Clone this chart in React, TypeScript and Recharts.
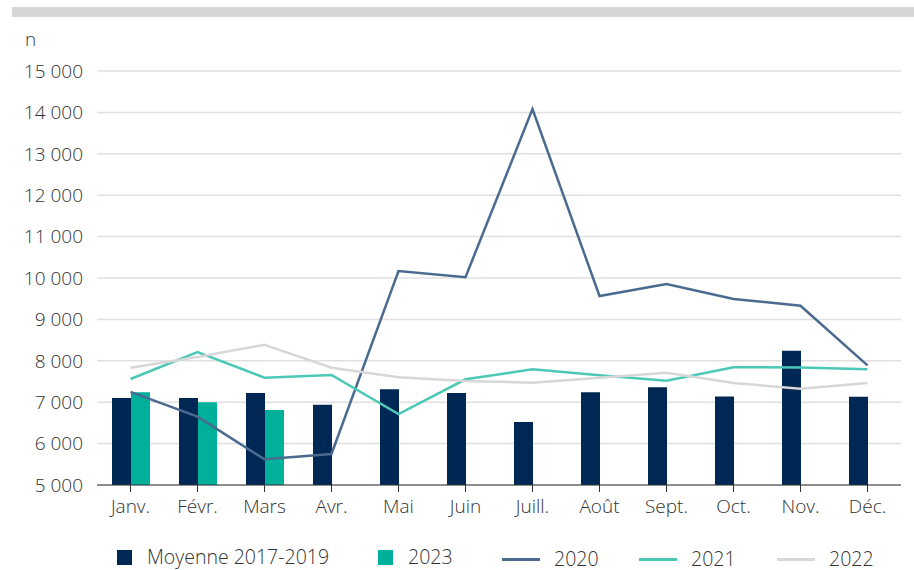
import React from 'react';
import { ComposedChart, Bar, Line, XAxis, YAxis, CartesianGrid, Legend } from 'recharts';

const months = ['Janv.', 'Févr.', 'Mars', 'Avr.', 'Mai', 'Juin', 'Juill.', 'Août', 'Sept.', 'Oct.', 'Nov.', 'Déc.'];
const moyenne = [7100, 7100, 7220, 6940, 7310, 7220, 6520, 7240, 7360, 7140, 8240, 7130];
const y2023: (number | null)[] = [7240, 7000, 6810, null, null, null, null, null, null, null, null, null];
const y2020 = [7250, 6650, 5620, 5750, 10170, 10020, 14080, 9565, 9855, 9493, 9331, 7891];
const y2021 = [7560, 8213, 7592, 7657, 6715, 7553, 7795, 7650, 7520, 7843, 7840, 7795];
const y2022 = [7833, 8090, 8389, 7833, 7601, 7512, 7472, 7592, 7713, 7464, 7326, 7464];
const yTicks = [5000, 6000, 7000, 8000, 9000, 10000, 11000, 12000, 13000, 14000, 15000];

const data = months.map((m, i) => ({
  month: m,
  moyenne: moyenne[i],
  y2023: y2023[i],
  y2020: y2020[i],
  y2021: y2021[i],
  y2022: y2022[i],
}));

const C_NAVY = '#002855';
const C_TEAL = '#00b09b';
const C_2020 = '#4a6b8f';
const C_2021 = '#4cc8b7';
const C_2022 = '#d7d7d7';
const TXT = '#333333';
const FONT = '"Open Sans", sans-serif';
const FW = 300;

const fmt = (v: number) => {
  const s = String(v);
  return s.length > 3 ? s.slice(0, s.length - 3) + ' ' + s.slice(-3) : s;
};

const legendItems = [
  { label: 'Moyenne 2017-2019', color: C_NAVY, kind: 'square', x: 117 },
  { label: '2023', color: C_TEAL, kind: 'square', x: 378 },
  { label: '2020', color: C_2020, kind: 'line', x: 502 },
  { label: '2021', color: C_2021, kind: 'line', x: 639 },
  { label: '2022', color: C_2022, kind: 'line', x: 777 },
];

const LegendContent = () => (
  <div style={{ position: 'relative', width: 914, height: 30, fontFamily: FONT, fontWeight: FW, fontSize: 19.5, color: TXT }}>
    {legendItems.map((it) => (
      <div key={it.label} style={{ position: 'absolute', left: it.x, top: 0, height: 30, display: 'flex', alignItems: 'center' }}>
        {it.kind === 'square' ? (
          <div style={{ width: 15, height: 15, background: it.color, marginRight: 15 }} />
        ) : (
          <div style={{ width: 38, height: 3, background: it.color, marginRight: 14, marginTop: 4 }} />
        )}
        <span style={{ whiteSpace: 'nowrap', lineHeight: '30px', marginTop: it.kind === 'line' ? 3 : 0 }}>{it.label}</span>
      </div>
    ))}
  </div>
);

export default function App() {
  return (
    <div style={{ position: 'absolute', left: 0, top: 0, width: 914, height: 570, background: '#fff', fontFamily: FONT }}>
      <div style={{ position: 'absolute', left: 12, top: 7, width: 902, height: 10, background: '#d6d6d6' }} />
      <div style={{ position: 'absolute', left: 25, top: 26, fontSize: 19, fontWeight: FW, color: TXT, fontFamily: FONT }}>n</div>
      <ComposedChart
        width={914}
        height={570}
        data={data}
        margin={{ top: 71, right: 13, bottom: 15, left: 0 }}
        barSize={19}
        barGap={0}
      >
        <CartesianGrid vertical={false} stroke="#e0e0e0" strokeWidth={1.5} />
        <XAxis
          dataKey="month"
          height={40}
          stroke="#333"
          tickSize={7}
          tickMargin={8}
          tick={{ fill: TXT, fontSize: 19, fontFamily: FONT, fontWeight: FW }}
          interval={0}
        />
        <YAxis
          domain={[5000, 15000]}
          ticks={yTicks}
          width={97}
          axisLine={false}
          tickLine={false}
          tickSize={0}
          tickMargin={14}
          tickFormatter={fmt}
          tick={{ fill: TXT, fontSize: 19, fontFamily: FONT, fontWeight: FW }}
        />
        <Legend
          verticalAlign="bottom"
          content={<LegendContent />}
          wrapperStyle={{ left: 0, top: 542, width: 914, height: 30 }}
        />
        <Bar dataKey="moyenne" name="Moyenne 2017-2019" fill={C_NAVY} isAnimationActive={false} />
        <Bar dataKey="y2023" name="2023" fill={C_TEAL} isAnimationActive={false} />
        <Line dataKey="y2020" name="2020" stroke={C_2020} strokeWidth={2.5} dot={false} type="linear" isAnimationActive={false} />
        <Line dataKey="y2021" name="2021" stroke={C_2021} strokeWidth={2.5} dot={false} type="linear" isAnimationActive={false} />
        <Line dataKey="y2022" name="2022" stroke={C_2022} strokeWidth={2.5} dot={false} type="linear" isAnimationActive={false} />
      </ComposedChart>
    </div>
  );
}
